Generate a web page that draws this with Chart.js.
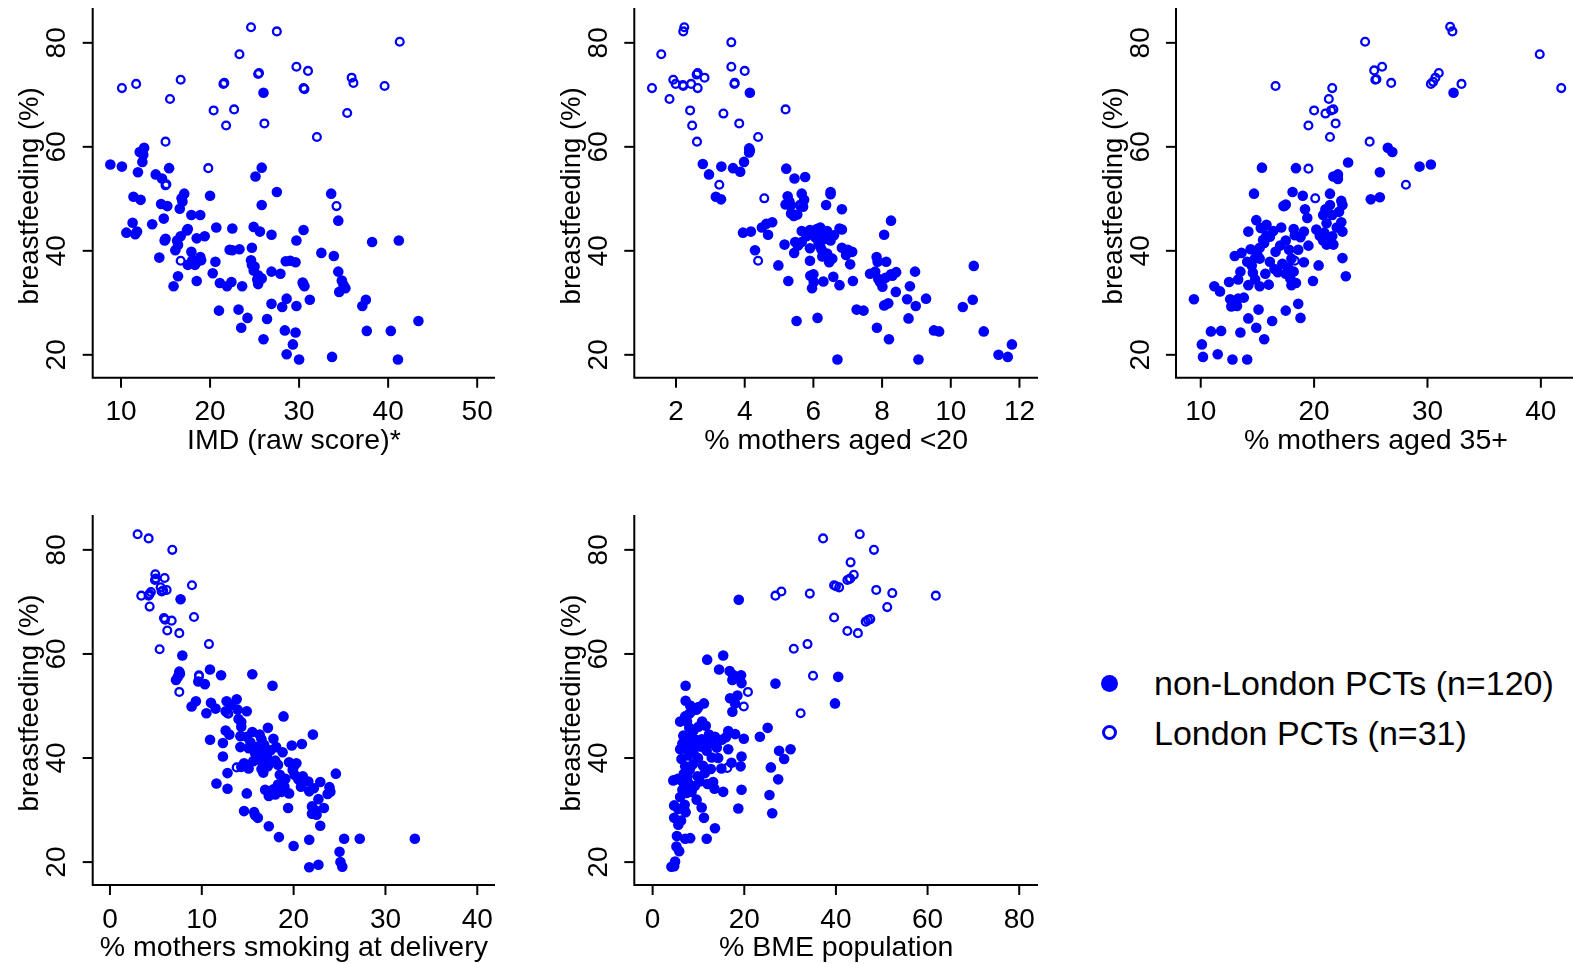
<!DOCTYPE html>
<html>
<head>
<meta charset="utf-8">
<script src="https://cdn.jsdelivr.net/npm/chart.js@4.4.1/dist/chart.umd.min.js"></script>
<style>
  html, body { margin: 0; padding: 0; background: #fff; overflow: hidden; }
  body { width: 1573px; height: 964px; position: relative; font-family: "Liberation Sans", Arial, sans-serif; }
  canvas { position: absolute; }
  .leg { position: absolute; left: 1154px; font-size: 34px; line-height: 40px; color: #000; white-space: nowrap; }
  .dot { position: absolute; border-radius: 50%; box-sizing: border-box; }
</style>
</head>
<body>

<div class="dot" style="left:1101px; top:675px; width:17px; height:17px; background:#0000ff;"></div>
<div class="leg" style="top:663px;">non-London PCTs (n=120)</div>
<div class="dot" style="left:1102px; top:725px; width:15px; height:15px; border:3.5px solid #0000ff;"></div>
<div class="leg" style="top:713px;">London PCTs (n=31)</div>

<script>
// breastfeeding (%) against five area measures, one point per PCT
const bfTicks = [20, 40, 60, 80];

const imdTicks = [10, 20, 30, 40, 50];
const teenTicks = [2, 4, 6, 8, 10, 12];
const olderTicks = [10, 20, 30, 40];
const smokeTicks = [0, 10, 20, 30, 40];
const bmeTicks = [0, 20, 40, 60, 80];

const titles = ["IMD (raw score)*", "% mothers aged <20", "% mothers aged 35+",
  "% mothers smoking at delivery", "% BME population"];

// [x, breastfeeding]
const imdNonLondon = [
  [26.0,70.4],[12.6,59.8],[12.1,59.0],[12.4,57.1],[8.8,56.6],[10.1,56.2],[15.4,55.9],[25.8,56.0],[11.9,55.1],[13.9,54.7],
  [14.6,53.9],[25.1,54.3],[27.5,51.3],[33.6,51.0],[20.0,50.6],[11.4,50.4],[12.2,49.8],[17.1,51.0],[16.8,50.1],[16.6,48.1],
  [14.5,49.0],[15.2,48.6],[25.8,48.8],[17.9,46.9],[18.9,46.9],[14.8,46.2],[34.4,45.8],[11.3,45.4],[13.5,45.1],[10.6,43.5],
  [11.8,43.7],[11.6,43.2],[17.4,43.9],[20.7,44.5],[22.5,44.3],[24.9,44.6],[25.6,43.7],[26.9,43.1],[30.5,44.0],[19.4,42.8],
  [18.5,42.4],[14.9,42.0],[16.3,42.0],[16.4,41.1],[16.1,40.1],[17.9,39.8],[22.2,40.2],[23.3,40.3],[24.7,40.6],[29.7,42.0],
  [38.2,41.7],[41.2,42.0],[32.5,39.6],[33.9,39.0],[14.3,38.7],[18.9,38.8],[18.5,37.8],[17.5,37.3],[18.3,37.3],[20.6,37.9],
  [24.6,38.2],[24.7,37.3],[24.9,36.2],[25.4,35.3],[25.8,34.7],[25.4,33.6],[28.5,38.0],[29.6,37.8],[26.9,36.0],[27.9,35.6],
  [34.4,36.0],[34.8,34.3],[35.2,32.8],[34.5,32.1],[30.4,33.9],[30.5,33.5],[20.3,35.7],[16.4,35.1],[18.5,34.2],[15.9,33.2],
  [21.1,33.8],[21.9,33.2],[22.4,34.0],[23.6,33.2],[31.2,30.6],[28.6,30.8],[28.1,29.2],[29.7,29.4],[26.9,29.8],[37.5,30.6],
  [37.1,29.4],[21.0,28.5],[23.2,28.7],[24.2,27.1],[26.4,26.9],[23.5,25.2],[43.4,26.5],[28.4,24.7],[29.6,24.3],[37.6,24.6],
  [40.3,24.6],[26.0,23.0],[29.3,22.0],[28.6,20.1],[30.0,19.1],[33.7,19.6],[41.1,19.1],[16.9,49.5],[15.0,42.3],[18.0,38.2],
  [25.0,37.0],[16.7,42.8],[29.0,38.1],[22.5,40.1],[12.5,58.5],[17.5,44.2],[19.0,38.2],[25.3,34.5],[30.6,33.2],[35.0,33.4]
];
const imdLondon = [
  [24.6,83.0],[27.5,82.2],[41.3,80.2],[23.3,77.8],[29.7,75.4],[31.0,74.6],[25.5,74.2],[35.9,73.3],[36.1,72.3],[10.1,71.3],
  [11.7,72.1],[16.7,72.9],[21.5,72.1],[30.5,71.3],[39.6,71.7],[15.5,69.2],[20.4,67.0],[22.7,67.2],[35.4,66.5],[21.8,64.1],
  [26.1,64.5],[32.0,61.9],[15.0,61.0],[19.8,55.9],[15.0,52.6],[34.2,48.6],[16.7,38.1],[25.4,74.0],[21.6,72.3],[15.1,52.8],
  [30.6,71.1]
];

const teenNonLondon = [
  [4.15,70.4],[4.13,59.7],[4.13,58.9],[3.98,57.1],[2.78,56.7],[3.32,56.2],[3.66,55.9],[3.87,55.2],[2.96,54.7],[5.21,55.8],
  [5.45,53.9],[5.76,54.2],[6.5,51.3],[6.5,50.9],[3.16,50.4],[3.31,49.9],[5.66,51.0],[5.73,49.8],[5.25,50.5],[5.19,48.9],
  [5.34,48.7],[6.37,48.8],[6.83,48.0],[5.43,46.7],[5.53,47.0],[8.26,45.8],[4.63,45.2],[4.80,45.5],[3.95,43.5],[4.18,43.7],
  [4.68,43.1],[5.66,43.8],[6.1,44.2],[6.2,44.5],[6.4,43.8],[6.3,43.2],[6.05,42.6],[6.35,42.3],[6.76,44.3],[6.83,44.1],
  [8.06,43.1],[5.16,41.2],[5.47,41.7],[5.66,41.7],[5.90,40.5],[6.24,40.2],[6.83,40.6],[7.13,39.8],[6.95,39.2],[4.30,40.1],
  [5.44,39.6],[6.26,38.9],[6.46,37.8],[7.07,37.4],[5.90,38.1],[7.84,38.8],[7.87,37.9],[8.12,37.9],[4.98,37.2],[10.67,37.1],
  [7.65,35.6],[7.89,34.6],[8.26,35.5],[8.41,35.9],[8.96,36.0],[5.91,35.2],[6.01,34.0],[6.29,34.1],[6.58,35.0],[6.76,33.4],
  [5.96,32.8],[5.27,34.2],[7.15,34.2],[8.01,33.1],[8.40,32.1],[8.81,33.2],[8.73,30.7],[8.98,29.4],[9.28,30.8],[8.06,29.5],
  [8.18,29.9],[10.35,29.2],[10.64,30.6],[7.26,28.7],[7.46,28.5],[5.51,26.5],[6.12,27.1],[8.77,27.0],[7.85,25.2],[9.51,24.7],
  [9.66,24.5],[10.96,24.5],[8.20,23.0],[11.78,22.0],[11.39,20.0],[11.66,19.6],[6.70,19.1],[9.06,19.1],[7.94,34.0],[6.0,43.5],
  [6.15,41.5],[5.8,42.8],[6.5,42.0],[6.6,43.0],[5.55,41.0],[6.2,40.8],[5.7,48.5],[5.3,49.5],[6.4,39.5],[7.0,40.2],
  [6.0,35.5],[7.8,36.0],[8.1,34.8],[4.15,59.3],[5.35,47.2],[6.25,43.0],[5.9,44.0],[6.55,38.5],[8.3,35.2],[4.5,44.5]
];
const teenLondon = [
  [2.24,83.0],[2.21,82.2],[3.61,80.1],[1.57,77.8],[3.61,75.4],[4.0,74.6],[2.63,74.2],[2.83,73.3],[1.92,72.9],[1.99,72.1],
  [2.21,71.7],[2.44,72.1],[2.63,71.3],[1.30,71.3],[3.71,72.3],[1.81,69.2],[2.41,67.0],[3.38,66.4],[5.19,67.2],[2.47,64.1],
  [3.84,64.5],[4.39,61.9],[2.61,61.0],[3.26,52.7],[4.57,50.1],[5.63,48.6],[4.39,38.1],[2.2,71.9],[2.6,73.9],[3.7,72.1],
  [5.6,48.8]
];

const olderNonLondon = [
  [32.3,70.4],[26.5,59.8],[26.9,59.0],[23.0,57.0],[15.4,56.0],[18.4,55.9],[29.3,56.2],[30.3,56.6],[25.8,55.1],[21.7,54.3],
  [22.1,54.7],[22.1,53.8],[14.7,51.0],[18.1,51.3],[21.4,51.0],[19.0,50.6],[25.0,49.9],[25.8,50.3],[17.3,48.6],[17.5,48.9],
  [21.4,48.8],[22.4,49.6],[22.5,48.8],[19.2,48.0],[19.4,46.3],[14.9,45.9],[20.8,46.9],[21.6,46.9],[21.1,45.3],[22.4,45.5],
  [22.5,43.7],[17.1,44.5],[14.2,43.7],[15.3,44.4],[15.8,43.0],[16.1,42.7],[15.5,42.1],[15.2,40.6],[18.2,44.2],[19.1,43.7],
  [18.8,42.6],[17.5,42.0],[20.2,44.1],[20.5,42.9],[20.8,42.0],[21.1,41.2],[21.7,41.2],[21.6,42.8],[16.6,39.8],[17.8,40.2],
  [18.6,40.2],[13.0,39.0],[13.6,39.6],[14.1,37.9],[14.8,38.6],[15.2,38.5],[16.1,37.9],[19.1,37.8],[22.5,38.6],[20.4,37.2],
  [17.2,37.5],[16.8,35.9],[17.5,35.6],[13.5,36.0],[14.6,35.8],[15.7,35.6],[18.2,36.0],[17.9,34.7],[18.4,33.8],[18.0,33.4],
  [19.9,34.2],[22.8,35.1],[12.5,34.0],[13.3,34.5],[11.2,33.2],[11.7,32.2],[14.2,33.4],[15.2,33.2],[16.0,33.5],[9.4,30.7],
  [12.6,30.7],[13.3,30.8],[12.7,29.3],[13.2,29.4],[18.6,29.8],[15.1,28.7],[17.5,28.5],[14.2,27.0],[16.3,26.5],[18.8,27.1],
  [14.9,25.2],[10.9,24.5],[11.8,24.6],[13.5,24.3],[15.6,23.0],[10.1,22.0],[10.2,19.6],[11.5,20.1],[12.8,19.1],[14.1,19.1],
  [15.6,41.5],[15.0,39.2],[14.5,37.2],[17.0,41.0],[18.3,43.0],[20.9,43.5],[21.3,42.2],[22.2,47.5],[14.8,34.5],[16.5,36.5],
  [13.8,31.0],[18.0,38.5],[21.0,48.0],[19.5,41.0],[15.8,45.0],[14.4,40.3],[17.7,36.8],[12.9,30.0],[22.0,44.5],[16.4,43.8]
];
const olderLondon = [
  [32.0,83.1],[32.2,82.2],[24.5,80.2],[39.9,77.8],[25.3,74.7],[26.0,75.4],[25.4,72.9],[26.8,72.3],[30.3,72.1],[30.7,73.3],
  [31.0,74.2],[33.0,72.1],[41.8,71.3],[16.6,71.7],[21.6,71.3],[21.3,69.2],[20.0,67.0],[21.0,66.4],[21.7,67.2],[21.9,64.5],
  [19.5,64.1],[21.4,61.9],[24.9,61.0],[19.5,55.8],[28.1,52.7],[20.1,50.1],[18.3,38.1],[21.5,67.0],[25.5,73.0],[30.5,72.5],
  [17.4,48.6]
];

const smokeNonLondon = [
  [7.69,70.5],[7.88,59.7],[7.55,56.6],[7.62,56.2],[7.19,55.0],[10.89,57.0],[12.1,55.9],[15.5,56.1],[17.7,53.9],[9.62,54.7],
  [10.34,54.2],[9.36,50.9],[8.89,49.9],[11.0,50.6],[10.5,48.6],[12.7,50.9],[13.8,51.3],[12.6,49.0],[13.9,49.3],[14.9,49.0],
  [18.9,48.0],[14.3,46.9],[14.3,46.0],[17.2,45.8],[12.6,45.3],[10.9,43.5],[12.3,42.9],[14.2,44.2],[14.9,44.1],[14.2,42.1],
  [15.1,41.9],[16.3,44.5],[16.5,43.6],[17.8,43.7],[18.1,42.1],[16.0,42.1],[16.7,41.0],[17.1,40.3],[16.2,39.7],[15.6,39.4],
  [19.8,42.4],[20.9,42.7],[22.1,44.5],[18.8,41.1],[12.3,40.3],[14.3,38.3],[15.1,38.0],[16.5,37.9],[17.2,38.4],[18.3,38.7],
  [20.3,39.0],[19.9,37.7],[20.1,36.8],[19.1,36.0],[20.5,35.9],[12.8,37.1],[24.6,37.0],[11.6,35.1],[12.8,34.1],[14.9,33.2],
  [16.9,33.9],[17.3,33.3],[17.3,32.7],[18.3,34.9],[18.7,33.5],[19.5,33.2],[21.6,35.5],[22.9,35.4],[21.7,33.6],[23.9,34.4],
  [23.7,33.1],[22.7,32.1],[19.4,30.4],[22.0,30.7],[22.0,29.3],[22.5,29.1],[23.3,30.4],[14.6,29.8],[15.7,29.6],[16.1,28.5],
  [17.3,26.9],[22.9,27.0],[18.4,24.8],[20.0,23.1],[21.7,24.3],[25.5,24.5],[27.2,24.5],[33.2,24.5],[25.0,22.0],[25.1,20.0],
  [25.3,19.1],[21.7,19.0],[22.7,19.5],[7.4,55.6],[13.2,50.2],[14.0,47.5],[15.3,43.0],[16.8,42.5],[15.8,41.0],[17.5,41.5],
  [18.0,39.5],[16.9,39.0],[19.5,39.2],[20.0,38.3],[17.8,34.0],[18.0,33.0],[19.0,34.5],[22.2,34.2],[22.3,30.0],[16.7,37.2],
  [14.6,39.0],[13.0,44.5],[15.5,45.0],[21.0,36.5],[20.8,34.5],[24.0,33.5],[11.5,49.5],[15.8,29.0],[18.5,36.8],[15.9,40.5]
];
const smokeLondon = [
  [3.01,83.0],[4.21,82.2],[6.79,80.0],[4.94,75.3],[4.90,74.2],[5.95,74.6],[8.93,73.2],[5.52,72.8],[6.17,72.3],[5.63,72.0],
  [3.41,71.2],[4.21,71.2],[4.46,71.9],[4.32,69.1],[5.88,66.9],[6.72,66.4],[9.15,67.1],[6.24,64.5],[7.55,64.0],[10.78,61.9],
  [5.41,60.9],[9.69,55.9],[7.55,52.7],[12.89,48.5],[13.8,38.2],[5.0,74.5],[5.8,72.2],[4.3,71.5],[6.0,66.6],[9.7,55.7],
  [12.8,48.6]
];

const bmeNonLondon = [
  [18.8,70.4],[15.4,59.7],[11.9,58.9],[14.5,57.0],[16.8,56.7],[17.9,55.7],[19.3,55.9],[17.4,55.0],[19.4,54.4],[26.8,54.3],
  [40.5,55.6],[39.8,50.5],[7.2,53.9],[7.2,51.0],[8.2,50.1],[9.6,49.3],[8.5,49.0],[11.2,50.5],[16.9,51.5],[18.0,50.5],
  [17.4,48.9],[6.0,47.0],[7.1,48.0],[10.8,47.0],[11.6,46.2],[25.1,45.8],[23.4,44.1],[6.7,44.3],[8.9,45.3],[9.2,43.6],
  [10.7,43.6],[11.8,43.0],[13.6,44.1],[15.1,43.5],[16.5,45.2],[18.0,44.6],[19.9,43.7],[6.0,41.7],[7.4,41.7],[8.9,41.0],
  [11.8,41.4],[12.9,40.1],[14.3,40.0],[16.5,41.7],[19.4,40.3],[27.6,41.4],[30.1,41.7],[6.3,39.8],[7.1,38.4],[8.1,37.8],
  [11.4,37.1],[12.7,37.9],[17.2,39.1],[19.2,38.4],[28.7,39.8],[25.8,38.2],[27.4,35.9],[4.5,35.7],[6.3,35.7],[7.8,35.2],
  [6.5,33.9],[7.4,33.3],[9.2,34.6],[10.3,35.5],[13.2,35.4],[13.5,34.1],[15.4,33.5],[19.4,33.9],[25.5,32.9],[9.6,32.0],
  [10.7,30.5],[4.7,30.9],[5.6,30.2],[7.2,29.6],[18.7,30.3],[26.1,29.4],[4.7,28.5],[5.6,27.2],[11.2,28.5],[13.6,26.5],
  [11.8,24.5],[7.1,24.5],[8.2,24.6],[5.2,23.0],[5.8,22.1],[4.9,20.1],[4.1,19.1],[4.7,19.2],[7.8,40.5],[9.5,42.5],
  [8.3,44.0],[6.8,37.0],[7.6,36.5],[8.5,33.5],[6.9,34.8],[9.8,36.5],[10.5,42.2],[12.3,44.5],[7.5,47.0],[8.0,48.5],
  [10.0,49.8],[6.5,42.8],[5.5,36.0],[8.8,38.8],[9.9,40.0],[11.0,38.5],[12.0,35.0],[14.0,42.0],[15.0,38.0],[6.0,32.5],
  [7.0,31.0],[8.0,45.8],[17.5,56.0],[18.5,52.0],[16.0,44.0],[5.3,25.0],[6.2,28.0],[10.0,46.0],[13.0,42.8],[7.9,42.5]
];
const bmeLondon = [
  [37.2,82.2],[45.2,83.0],[48.3,80.0],[43.2,77.6],[42.5,74.2],[43.1,74.5],[43.9,75.2],[39.6,73.2],[40.7,72.8],[48.8,72.3],
  [52.3,71.7],[61.8,71.2],[26.8,71.2],[28.1,72.0],[34.3,71.6],[51.2,69.0],[39.6,67.0],[46.5,66.2],[47.5,66.7],[42.5,64.4],
  [44.8,64.0],[33.8,61.9],[30.8,61.0],[35.0,55.8],[20.8,52.7],[19.9,49.9],[32.3,48.6],[16.3,38.1],[43.0,74.4],[40.0,73.0],
  [47.0,66.5]
];

const blue = "#0000ff";
const fontFamily = '"Liberation Sans", Arial, Helvetica, sans-serif';

// R style axes: L shaped frame, ticks pointing out, rotated y labels
const rAxes = {
  id: "rAxes",
  afterDraw(chart, args, opts) {
    let ctx = chart.ctx;
    let area = chart.chartArea;
    let sx = chart.scales.x;
    let sy = chart.scales.y;

    ctx.save();
    ctx.strokeStyle = "#000";
    ctx.fillStyle = "#000";
    ctx.lineWidth = 2;

    ctx.beginPath();
    ctx.moveTo(area.left, area.top);
    ctx.lineTo(area.left, area.bottom);
    ctx.lineTo(area.right, area.bottom);
    ctx.stroke();

    ctx.font = "28px " + fontFamily;
    ctx.textAlign = "center";
    ctx.textBaseline = "middle";

    opts.xTicks.forEach(v => {
      let px = sx.getPixelForValue(v);
      ctx.beginPath();
      ctx.moveTo(px, area.bottom);
      ctx.lineTo(px, area.bottom + 10);
      ctx.stroke();
      ctx.fillText(String(v), px, area.bottom + 35);
    });

    bfTicks.forEach(v => {
      let py = sy.getPixelForValue(v);
      ctx.beginPath();
      ctx.moveTo(area.left, py);
      ctx.lineTo(area.left - 10, py);
      ctx.stroke();
      ctx.save();
      ctx.translate(area.left - 35, py);
      ctx.rotate(-Math.PI / 2);
      ctx.fillText(String(v), 0, 0);
      ctx.restore();
    });

    ctx.font = "28.5px " + fontFamily;
    ctx.fillText(opts.xTitle, (area.left + area.right) / 2, area.bottom + 63);

    ctx.font = "27.5px " + fontFamily;
    ctx.save();
    ctx.translate(area.left - 62, (area.top + area.bottom) / 2 + 3);
    ctx.rotate(-Math.PI / 2);
    ctx.fillText("breastfeeding (%)", 0, 0);
    ctx.restore();

    ctx.restore();
  }
};

function toPoints(list) {
  return list.map(p => ({ x: p[0], y: p[1] }));
}

function makePanel(box, pad, nonLondon, london, xMin, xMax, xTicks, xTitle) {
  let canvas = document.createElement("canvas");
  canvas.width = box.w;
  canvas.height = box.h;
  canvas.style.left = box.x + "px";
  canvas.style.top = box.y + "px";
  canvas.style.width = box.w + "px";
  canvas.style.height = box.h + "px";
  document.body.appendChild(canvas);

  new Chart(canvas, {
    type: "scatter",
    data: {
      datasets: [
        {
          label: "non-London PCTs",
          data: toPoints(nonLondon),
          pointRadius: 5.3,
          pointBorderWidth: 0,
          pointBackgroundColor: blue,
          pointBorderColor: blue
        },
        {
          label: "London PCTs",
          data: toPoints(london),
          pointRadius: 3.9,
          pointBorderWidth: 2.3,
          pointBackgroundColor: "rgba(0,0,0,0)",
          pointBorderColor: blue
        }
      ]
    },
    options: {
      responsive: false,
      animation: false,
      events: [],
      layout: { padding: pad },
      scales: {
        x: { type: "linear", min: xMin, max: xMax, display: false },
        y: { type: "linear", min: 15.6, max: 86.7, display: false }
      },
      plugins: {
        legend: { display: false },
        tooltip: { enabled: false },
        rAxes: { xTicks: xTicks, xTitle: xTitle }
      }
    },
    plugins: [rAxes]
  });
}

makePanel({ x: 0, y: 0, w: 530, h: 470 }, { left: 92.7, right: 35, top: 8, bottom: 92.3 },
  imdNonLondon, imdLondon, 6.82, 52.0, imdTicks, titles[0]);
makePanel({ x: 540, y: 0, w: 530, h: 470 }, { left: 94.3, right: 32, top: 8, bottom: 92.3 },
  teenNonLondon, teenLondon, 0.785, 12.54, teenTicks, titles[1]);
makePanel({ x: 1083, y: 0, w: 500, h: 470 }, { left: 93, right: 7, top: 8, bottom: 92.3 },
  olderNonLondon, olderLondon, 7.82, 43.1, olderTicks, titles[2]);
makePanel({ x: 0, y: 505, w: 530, h: 459 }, { left: 92.7, right: 35, top: 10, bottom: 79 },
  smokeNonLondon, smokeLondon, -1.88, 41.93, smokeTicks, titles[3]);
makePanel({ x: 540, y: 505, w: 530, h: 459 }, { left: 94.3, right: 32, top: 10, bottom: 79 },
  bmeNonLondon, bmeLondon, -4.0, 84.1, bmeTicks, titles[4]);
</script>
</body>
</html>
